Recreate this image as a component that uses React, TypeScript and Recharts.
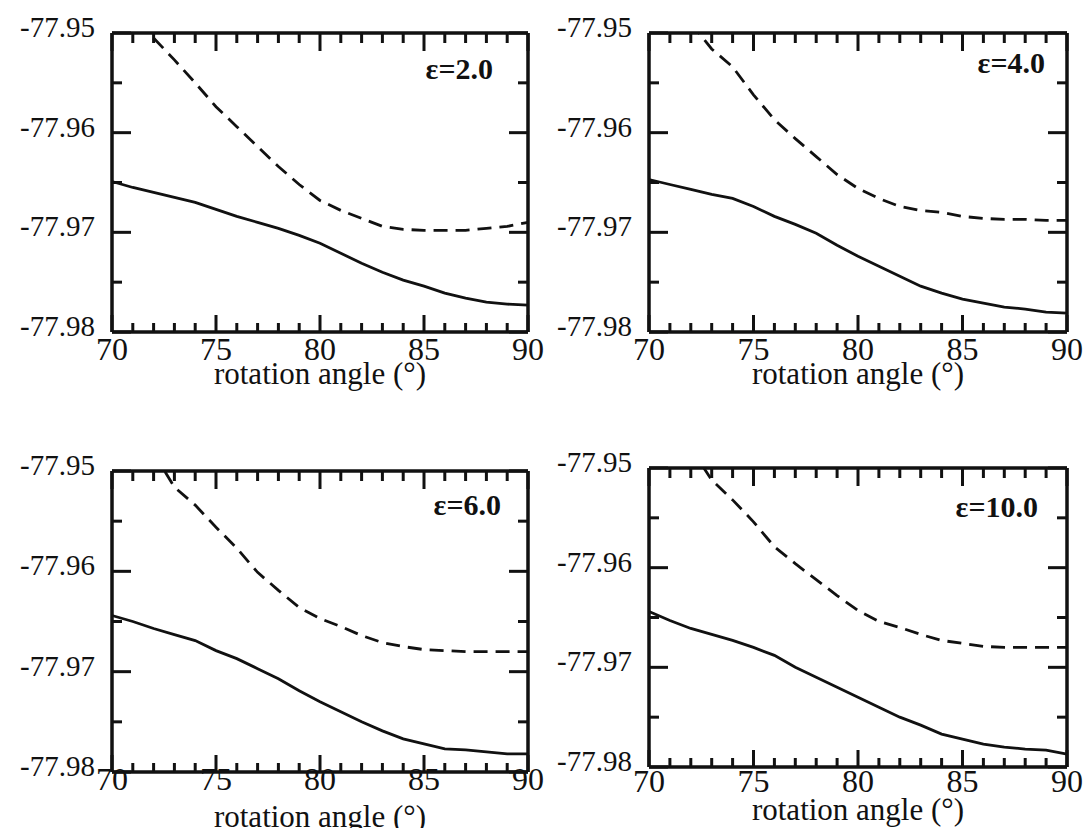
import { LineChart, Line, XAxis, YAxis, ReferenceLine } from "recharts";

const angles = [70, 71, 72, 73, 74, 75, 76, 77, 78, 79, 80, 81, 82, 83, 84, 85, 86, 87, 88, 89, 90];
const xMajor = [70, 75, 80, 85, 90];
const xMinor = [71, 72, 73, 74, 76, 77, 78, 79, 81, 82, 83, 84, 86, 87, 88, 89];
const yMajor = [-77.98, -77.97, -77.96, -77.95];
const yMinor = [-77.975, -77.965, -77.955];

// eps = 2.0
const solid2 = [-77.9649, -77.9655, -77.966, -77.9665, -77.967, -77.9677, -77.9684, -77.969, -77.9696, -77.9703, -77.9711, -77.9721, -77.9731, -77.974, -77.9748, -77.9754, -77.9761, -77.9766, -77.977, -77.9772, -77.9773];
const dashed2 = [null, null, -77.9505, -77.9527, -77.955, -77.9574, -77.9594, -77.9614, -77.9634, -77.9652, -77.9668, -77.9678, -77.9686, -77.9694, -77.9697, -77.9698, -77.9698, -77.9698, -77.9696, -77.9694, -77.969];
// eps = 4.0
const solid4 = [-77.9647, -77.9652, -77.9657, -77.9662, -77.9666, -77.9674, -77.9684, -77.9692, -77.9701, -77.9713, -77.9724, -77.9734, -77.9744, -77.9754, -77.9761, -77.9767, -77.9771, -77.9775, -77.9777, -77.978, -77.9781];
const dashed4 = [null, null, -77.949, -77.9516, -77.9534, -77.9562, -77.9587, -77.9606, -77.9624, -77.9642, -77.9656, -77.9666, -77.9674, -77.9678, -77.968, -77.9684, -77.9686, -77.9687, -77.9687, -77.9688, -77.9688];
// eps = 6.0
const solid6 = [-77.9644, -77.965, -77.9657, -77.9663, -77.9669, -77.9679, -77.9687, -77.9697, -77.9707, -77.9719, -77.973, -77.974, -77.975, -77.9759, -77.9767, -77.9772, -77.9777, -77.9778, -77.978, -77.9782, -77.9782];
const dashed6 = [null, null, -77.9482, -77.9516, -77.9534, -77.9556, -77.9577, -77.9601, -77.9619, -77.9636, -77.9647, -77.9655, -77.9664, -77.9671, -77.9675, -77.9678, -77.9679, -77.968, -77.968, -77.968, -77.968];
// eps = 10.0
const solid10 = [-77.9644, -77.9653, -77.9661, -77.9667, -77.9673, -77.968, -77.9688, -77.97, -77.971, -77.972, -77.973, -77.974, -77.975, -77.9758, -77.9767, -77.9772, -77.9777, -77.978, -77.9782, -77.9783, -77.9787];
const dashed10 = [null, null, -77.948, -77.9512, -77.9532, -77.9554, -77.9579, -77.9596, -77.9612, -77.9628, -77.9643, -77.9654, -77.966, -77.9667, -77.9673, -77.9676, -77.9679, -77.968, -77.968, -77.968, -77.968];

const INK = "#111";
const X_DOMAIN: [number, number] = [70, 90];
const Y_DOMAIN: [number, number] = [-77.98, -77.95];
const FRAME = { stroke: INK, strokeWidth: 3.5 };

const rows = (solid: (number | null)[], dashed: (number | null)[]) =>
  angles.map((a, i) => ({ angle: a, solid: solid[i], dashed: dashed[i] }));

function XLabel({ x, y, payload, labelDy }: any) {
  return (
    <text x={x} y={y + labelDy} textAnchor="middle" fontSize={32} fill={INK}>
      {payload.value}
    </text>
  );
}

function YLabel({ x, y, payload }: any) {
  return (
    <text x={x - 17} y={y + 4} textAnchor="end" fontSize={29} fill={INK}>
      {Number(payload.value).toFixed(2)}
    </text>
  );
}

interface PanelProps {
  solid: (number | null)[];
  dashed: (number | null)[];
  label: string;
  left: number;
  top: number;
  width: number;
  height: number;
  margin: { top: number; right: number; bottom: number; left: number };
  labelDy: number;
  titleOffset: number;
  epsRight: number;
  epsTop: number;
}

function Panel(p: PanelProps) {
  const data = rows(p.solid, p.dashed);
  const plotW = p.width - p.margin.left - p.margin.right - 100;
  const plotH = p.height - p.margin.top - p.margin.bottom - 60;
  // tick lengths are given in px, turned into axis units here
  const dx = (px: number) => (px * (X_DOMAIN[1] - X_DOMAIN[0])) / plotW;
  const dy = (px: number) => (px * (Y_DOMAIN[1] - Y_DOMAIN[0])) / plotH;
  const [x0, x1] = X_DOMAIN;
  const [y0, y1] = Y_DOMAIN;
  const tickProps = { stroke: INK, strokeWidth: 3, ifOverflow: "visible" as const };

  const xTickSegs = [
    ...xMajor.map((v) => ({ v, b: dy(17), t: dy(18) })),
    ...xMinor.map((v) => ({ v, b: dy(9), t: dy(10) })),
  ];
  const yTickSegs = [...yMajor.map((v) => ({ v, l: dx(19) })), ...yMinor.map((v) => ({ v, l: dx(10) }))];

  return (
    <div style={{ position: "absolute", left: p.left, top: p.top, width: p.width, height: p.height }}>
      <LineChart width={p.width} height={p.height} data={data} margin={p.margin}>
        <XAxis
          dataKey="angle"
          type="number"
          domain={X_DOMAIN}
          ticks={xMajor}
          interval={0}
          height={60}
          tickSize={0}
          tickMargin={0}
          tickLine={false}
          axisLine={FRAME}
          tick={<XLabel labelDy={p.labelDy} />}
          label={{ value: "rotation angle (°)", position: "insideBottom", offset: p.titleOffset, fontSize: 31, fill: INK }}
        />
        <XAxis
          xAxisId="top"
          orientation="top"
          mirror
          type="number"
          domain={X_DOMAIN}
          height={1}
          tick={false}
          tickLine={false}
          axisLine={FRAME}
        />
        <YAxis
          type="number"
          domain={Y_DOMAIN}
          allowDataOverflow
          ticks={yMajor}
          interval={0}
          width={100}
          tickSize={0}
          tickMargin={0}
          tickLine={false}
          axisLine={FRAME}
          tick={YLabel}
        />
        <YAxis
          yAxisId="right"
          orientation="right"
          mirror
          type="number"
          domain={Y_DOMAIN}
          width={1}
          tick={false}
          tickLine={false}
          axisLine={FRAME}
        />
        {xTickSegs.map((s) => (
          <ReferenceLine key={`b${s.v}`} segment={[{ x: s.v, y: y0 }, { x: s.v, y: y0 + s.b }]} {...tickProps} />
        ))}
        {xTickSegs.map((s) => (
          <ReferenceLine key={`t${s.v}`} segment={[{ x: s.v, y: y1 }, { x: s.v, y: y1 - s.t }]} {...tickProps} />
        ))}
        {yTickSegs.map((s) => (
          <ReferenceLine key={`l${s.v}`} segment={[{ x: x0, y: s.v }, { x: x0 + s.l, y: s.v }]} {...tickProps} />
        ))}
        {yTickSegs.map((s) => (
          <ReferenceLine key={`r${s.v}`} segment={[{ x: x1, y: s.v }, { x: x1 - s.l, y: s.v }]} {...tickProps} />
        ))}
        <Line type="linear" dataKey="solid" stroke={INK} strokeWidth={2.8} dot={false} isAnimationActive={false} />
        <Line type="linear" dataKey="dashed" stroke={INK} strokeWidth={2.8} strokeDasharray="14 8" dot={false} isAnimationActive={false} />
      </LineChart>
      <div
        style={{
          position: "absolute",
          right: p.epsRight,
          top: p.epsTop,
          fontSize: 30,
          lineHeight: 1,
          fontWeight: "bold",
          color: INK,
          whiteSpace: "nowrap",
        }}
      >
        {p.label}
      </div>
    </div>
  );
}

export default function App() {
  return (
    <div
      style={{
        position: "absolute",
        left: 0,
        top: 0,
        width: 1085,
        height: 828,
        overflow: "hidden",
        background: "#fff",
        fontFamily: "'Liberation Serif', 'Times New Roman', serif",
      }}
    >
      <Panel
        solid={solid2}
        dashed={dashed2}
        label="ε=2.0"
        left={0}
        top={0}
        width={560}
        height={420}
        margin={{ top: 33, right: 32, bottom: 28, left: 12 }}
        labelDy={28}
        titleOffset={8}
        epsRight={560 - 493}
        epsTop={79 - 25}
      />
      <Panel
        solid={solid4}
        dashed={dashed4}
        label="ε=4.0"
        left={540}
        top={0}
        width={545}
        height={420}
        margin={{ top: 33, right: 18, bottom: 28, left: 9 }}
        labelDy={28}
        titleOffset={8}
        epsRight={1085 - 1045}
        epsTop={73 - 25}
      />
      <Panel
        solid={solid6}
        dashed={dashed6}
        label="ε=6.0"
        left={0}
        top={420}
        width={560}
        height={440}
        margin={{ top: 51, right: 32, bottom: 28, left: 12 }}
        labelDy={18}
        titleOffset={5}
        epsRight={560 - 501}
        epsTop={515 - 420 - 25}
      />
      <Panel
        solid={solid10}
        dashed={dashed10}
        label="ε=10.0"
        left={540}
        top={420}
        width={545}
        height={440}
        margin={{ top: 48, right: 18, bottom: 33, left: 9 }}
        labelDy={25}
        titleOffset={7}
        epsRight={1085 - 1038}
        epsTop={517 - 420 - 25}
      />
    </div>
  );
}
